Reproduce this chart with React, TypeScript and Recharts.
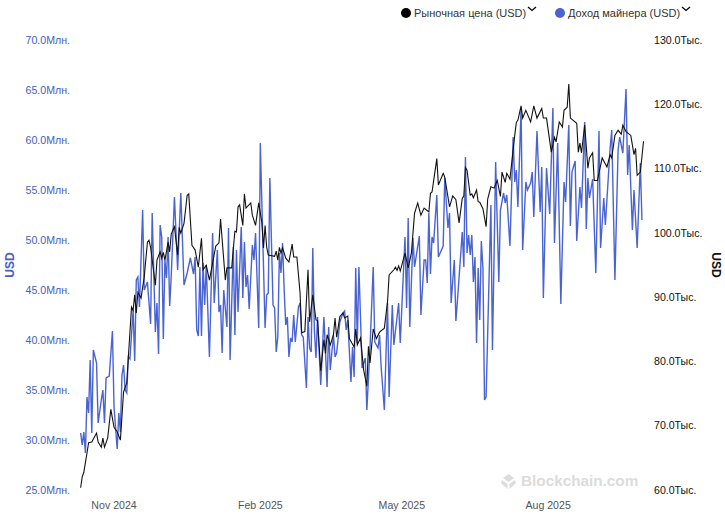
import React from 'react'
import { LineChart, Line, XAxis, YAxis } from 'recharts'

// [days since 2024-11-01, USD]
const marketPrice: [number, number][] = [
  [-21,60.2],[-20,61.9],[-19,62.6],[-17,65.6],[-16,67.2],[-14,67.3],[-11,68.7],[-10,67.3],[-8,66.5],[-7,67.9],[-6,66.5],[-4,67.9],[-2,72.4],[0,69.6],[2,68.9],[4,67.6],[6,75.1],[8,76.5],[11,88.3],[12,87.8],[13,90.2],[14,87.4],[15,90.6],[17,89.7],[19,93],[21,98.4],[22,98.7],[23,97.6],[26,91.7],[27,95.6],[29,96.9],[30,95.9],[31,96.8],[32,95.6],[34,98.4],[35,96.9],[36,99.7],[38,100.8],[40,96.4],[41,100.7],[42,99.8],[44,101.3],[46,105.7],[47,105.9],[49,97.9],[51,97.2],[53,94.5],[55,99],[56,94.1],[58,94.8],[60,92.5],[64,97.8],[66,98.3],[67,102],[70,92.5],[71,94.4],[74,94.4],[76,100.1],[77,100],[78,103.9],[79,104.2],[81,101],[82,105.9],[83,103.7],[86,104.5],[87,102.6],[89,101],[91,104.5],[93,101.4],[94,97.5],[95,101],[96,97.6],[97,96.4],[101,96.2],[102,97],[103,95.6],[104,97.6],[105,96.7],[106,97.5],[108,95.9],[110,95.3],[112,98.1],[113,96.1],[115,96.1],[117,90.5],[118,84.3],[120,84.5],[122,94.1],[123,86],[125,90.2],[127,86.3],[128,86.2],[130,78.4],[132,83.2],[133,81.1],[134,84],[136,82.4],[138,84],[139,86.6],[140,83.6],[142,86.8],[144,87.4],[145,86.6],[147,86.9],[148,83.4],[151,82.1],[152,84.9],[153,82.4],[155,83.5],[157,78.5],[159,76],[160,82.2],[161,79.6],[163,84.9],[165,83.4],[167,84.4],[170,85],[172,89.1],[173,93.3],[176,94.1],[177,94.5],[178,94],[179,94.7],[180,93.9],[183,96.7],[185,94.4],[187,96.7],[189,102.9],[191,104.5],[192,103.5],[193,102.6],[195,103.7],[198,103.1],[199,106],[200,106.2],[203,111.4],[204,107.3],[207,109.1],[208,108.5],[211,103.9],[213,105.6],[215,105],[217,101.4],[219,105.2],[220,105.6],[221,110],[222,109.6],[224,105.7],[225,105.9],[226,105.3],[228,106.5],[229,104.7],[230,104.6],[232,103.6],[234,100.8],[235,105.1],[237,107],[239,106.8],[241,108],[243,105.5],[244,109.3],[246,107.7],[247,109.1],[249,108.2],[252,115],[253,117],[254,117.4],[256,119.6],[257,117.7],[259,118.9],[262,117.1],[264,119.6],[266,117.7],[269,119.2],[270,117.7],[272,117.7],[275,112.4],[277,114.7],[278,114],[280,117.1],[282,116.3],[283,118.9],[285,119.4],[286,123],[287,117.7],[291,116.9],[292,112.4],[293,113.8],[294,112.3],[296,116.6],[298,109.9],[299,111.5],[301,112.3],[302,108],[304,108],[307,111.5],[310,110.1],[312,112],[313,111.5],[315,115],[317,115.8],[319,115.2],[320,116.6],[322,115.6],[325,115],[327,112],[328,113],[329,108.8],[331,109.3],[333,114.1],
]

const minerRevenue: [number, number][] = [
  [-21,30.6],[-20,29.4],[-19,30.7],[-18,28.6],[-17,34.2],[-16,32.6],[-15,37.9],[-14,30.6],[-13,38.9],[-11,37.6],[-10,31.6],[-8,33.9],[-7,34.9],[-6,31.6],[-5,36.1],[-3,36.3],[-1,40.8],[0,33.2],[2,29],[3,32.6],[4,30.7],[5,36.4],[6,37.4],[7,34.9],[8,34.6],[9,38.2],[10,38],[12,42.9],[13,37.8],[14,45.9],[15,46.2],[16,43.2],[18,52.9],[19,44.9],[21,45.7],[23,41.5],[24,52.6],[26,40.7],[27,43.6],[28,38.5],[29,51.4],[30,50.2],[31,40],[32,47.9],[33,46.1],[34,50.2],[35,43.3],[36,46.4],[38,54.2],[40,46.9],[42,54.6],[44,45.4],[46,46.6],[48,48.1],[50,46.5],[51,48.2],[52,40.9],[53,40.3],[54,47.2],[55,40.3],[56,47.6],[57,43.4],[58,47.4],[60,38.2],[62,50.6],[63,43.6],[65,48.9],[66,42.7],[67,43.4],[68,38.6],[69,44.9],[71,41.2],[72,51.1],[73,37.9],[75,49.2],[76,40.4],[77,48.9],[78,42.7],[80,51.2],[81,44.1],[82,49.7],[83,45.2],[84,46.4],[85,43],[87,49.4],[88,47.9],[89,50.6],[91,41.1],[92,59.6],[95,41.1],[96,44.4],[97,44.6],[98,56.1],[100,43.4],[101,43.1],[102,38.7],[103,40.2],[104,48.6],[105,46.6],[106,49.6],[107,44.9],[108,41.4],[109,42.2],[110,38.2],[111,40.1],[112,39.7],[113,42.4],[114,39.7],[116,43.2],[117,43.6],[118,40.4],[119,40.2],[121,35.1],[122,42.2],[123,39.1],[124,38.7],[125,49.1],[126,40.9],[127,38.1],[128,42.2],[130,35.4],[132,42.2],[134,35.2],[135,41.2],[136,36.9],[138,40.4],[139,38.2],[140,38.6],[142,41.7],[144,42.6],[145,42.8],[146,40.9],[147,41.9],[149,35.7],[150,39.2],[151,36.2],[152,47.1],[153,39.6],[154,47.2],[156,37.1],[158,38.1],[159,32.9],[161,39.2],[163,47.2],[164,39.7],[166,39.1],[167,40.4],[168,37.2],[170,32.9],[172,43.6],[173,34.2],[175,43.4],[176,39.4],[179,43.6],[180,39.6],[183,50.2],[184,43.1],[185,52.1],[186,41.2],[188,50.1],[189,47.2],[192,50.3],[193,42.4],[195,47.9],[196,47.9],[197,45.6],[198,52.6],[199,46.5],[200,50.2],[201,49.6],[203,54.4],[204,48.2],[207,49.3],[208,56.1],[210,51.1],[211,52.6],[212,43.6],[214,47.9],[215,41.8],[216,43.9],[219,50.7],[220,47.2],[221,58.2],[222,48.6],[223,50.4],[224,48.4],[225,50.4],[226,45.7],[227,48.2],[228,39.6],[229,47.1],[230,41.9],[231,49.8],[232,47.1],[233,33.9],[234,34.2],[237,53.4],[238,38.9],[240,57.7],[242,45.7],[243,52.9],[245,54.6],[246,53.6],[247,54.4],[249,49.3],[251,60.2],[252,55.7],[253,56.9],[254,53.2],[256,63.1],[257,48.9],[259,55.7],[260,54.9],[262,55.6],[263,56.7],[264,52.2],[266,60.8],[268,52.7],[269,57.2],[270,44.1],[272,57.1],[274,52.5],[276,63.1],[277,49.6],[279,59.6],[281,43.5],[283,55.7],[284,53.7],[286,61.4],[287,51.3],[288,56.7],[290,57.8],[291,49.8],[293,55.2],[294,53.1],[296,61.7],[297,51],[298,56.1],[299,54.1],[301,56],[303,46.6],[305,60.8],[306,49.1],[308,54.1],[309,51.4],[312,59.1],[313,60.9],[315,45.9],[317,58.9],[318,60.2],[320,58.6],[322,65],[323,56.4],[324,59.4],[326,50.9],[327,54.9],[329,49.1],[331,57.6],[332,51.9],
]

const xTicks = [0, 92, 181, 273]
const xTickLabels = ['Nov 2024', 'Feb 2025', 'May 2025', 'Aug 2025']
const revenueTicks = [25, 30, 35, 40, 45, 50, 55, 60, 65, 70]
const priceTicks = [60, 70, 80, 90, 100, 110, 120, 130]
const legendLabels = ['Рыночная цена (USD)', 'Доход майнера (USD)']

const FONT = '"Liberation Sans", Arial, sans-serif'
const BLUE = '#4a63d3'
const BLUE_TEXT = '#4560c4'

const toRows = (rows: [number, number][]) => rows.map(([day, value]) => ({ day, value }))

const LegendItem = ({ color, label, left }: { color: string; label: string; left: number }) => (
  <div style={{ position: 'absolute', left, top: 6, fontSize: 11, color: '#333', whiteSpace: 'nowrap', lineHeight: '14px', display: 'flex', alignItems: 'center' }}>
    <span style={{ width: 10, height: 10, borderRadius: 5, background: color, marginRight: 3 }} />
    {label}
    <svg width="10" height="6" style={{ marginLeft: 1, marginTop: -8 }}>
      <path d="M1 1 L5 4.5 L9 1" fill="none" stroke="#000" strokeWidth="1.3" />
    </svg>
  </div>
)

const AxisTitle = ({ center, color, angle }: { center: number; color: string; angle: number }) => (
  <div style={{ position: 'absolute', left: center - 20, top: 258, width: 40, height: 14, lineHeight: '14px', textAlign: 'center', fontSize: 12, fontWeight: 700, color, transform: `rotate(${angle}deg)` }}>
    USD
  </div>
)

const App = () => (
  <div style={{ position: 'absolute', left: 0, top: 0, width: 725, height: 515, fontFamily: FONT, background: '#fff' }}>
    <LineChart width={725} height={515} margin={{ top: 39, right: 0, bottom: 0, left: 0 }}>
      <XAxis
        type="number"
        dataKey="day"
        domain={[-21.4, 333.3]}
        ticks={xTicks}
        tickFormatter={(d: number) => xTickLabels[xTicks.indexOf(d)]}
        axisLine={false}
        tickLine={false}
        height={26}
        tickMargin={6}
        tick={{ fontSize: 10.6, fill: '#555', fontFamily: FONT }}
      />
      <YAxis
        yAxisId="revenue"
        width={80}
        domain={[25, 70]}
        ticks={revenueTicks}
        interval={0}
        tickFormatter={(v: number) => v.toFixed(1) + 'Млн.'}
        axisLine={false}
        tickLine={false}
        tickMargin={4}
        tick={{ fontSize: 10.6, fill: BLUE_TEXT, fontFamily: FONT, dy: 1 }}
      />
      <YAxis
        yAxisId="price"
        orientation="right"
        width={81}
        domain={[60, 130]}
        ticks={priceTicks}
        interval={0}
        tickFormatter={(v: number) => v.toFixed(1) + 'Тыс.'}
        axisLine={false}
        tickLine={false}
        tickMargin={4}
        tick={{ fontSize: 10.6, fill: '#111', fontFamily: FONT, dy: 1 }}
      />
      <Line
        yAxisId="revenue"
        data={toRows(minerRevenue)}
        dataKey="value"
        stroke={BLUE}
        strokeWidth={1.4}
        dot={false}
        activeDot={false}
        isAnimationActive={false}
      />
      <Line
        yAxisId="price"
        data={toRows(marketPrice)}
        dataKey="value"
        stroke="#111"
        strokeWidth={1.1}
        dot={false}
        activeDot={false}
        isAnimationActive={false}
      />
    </LineChart>
    <AxisTitle center={10} color={BLUE_TEXT} angle={-90} />
    <AxisTitle center={716} color="#111" angle={90} />
    <LegendItem color="#000" label={legendLabels[0]} left={401} />
    <LegendItem color={BLUE} label={legendLabels[1]} left={555} />
    <div style={{ position: 'absolute', left: 500, top: 472, display: 'flex', alignItems: 'center', color: '#dcdcdc', fontSize: 15.3, fontWeight: 700 }}>
      <svg width="17" height="17" viewBox="0 0 17 17" style={{ marginRight: 4 }}>
        <path d="M8.5 1 L14 5 L8.5 9 L3 5 Z M2 7 L7.5 11 L7.5 16 L1 10 Z M15 7 L9.5 11 L9.5 16 L16 10 Z" fill="#dcdcdc" />
      </svg>
      Blockchain.com
    </div>
  </div>
)

export default App
